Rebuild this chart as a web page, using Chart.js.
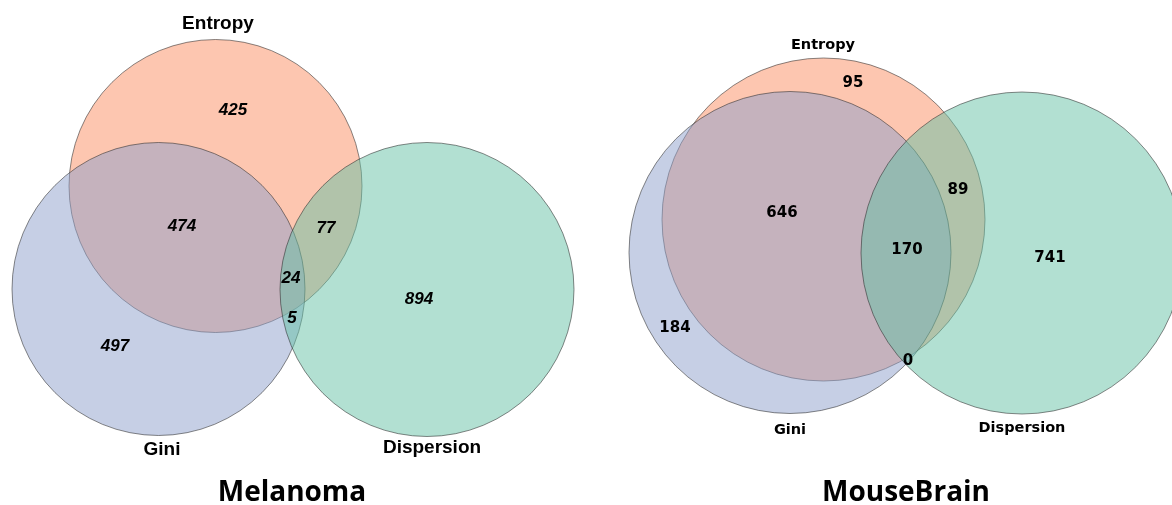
<!DOCTYPE html>
<html>
<head>
<meta charset="utf-8">
<script src="https://cdn.jsdelivr.net/npm/chart.js@4"></script>
<style>
  html, body { margin: 0; padding: 0; background: #fff; }
  #wrap { width: 1172px; height: 505px; }
</style>
</head>
<body>
<div id="wrap"><canvas id="venn" width="1172" height="505"></canvas></div>
<script>
// sets, in drawing order (Entropy at the bottom, Dispersion on top)
const setNames = ["Entropy", "Gini", "Dispersion"];
const setColors = ["#fc8d62", "#8da0cb", "#66c2a5"];

// Melanoma: region counts
const melRegions = ["E only", "E∩G", "E∩D", "E∩G∩D", "G∩D", "D only", "G only"];
const melCounts = [425, 474, 77, 24, 5, 894, 497];

// MouseBrain: region counts
const mbRegions = ["E only", "E∩D", "E∩G", "E∩G∩D", "D only", "G only", "G∩D"];
const mbCounts = [95, 89, 646, 170, 741, 184, 0];

const panelTitles = ["Melanoma", "MouseBrain"];

// layout (page units, same as pixels)
const melCircleX = [215.5, 158.5, 427];
const melCircleY = [186, 289, 289.5];
const melCircleR = [146.5, 146.5, 147];
const melSetLabelX = [218, 162, 432];
const melSetLabelY = [24, 450, 448];
const melCountX = [233, 182, 326, 291, 292, 419, 115];
const melCountY = [110, 226, 228, 278, 318, 299, 346];

const mbCircleX = [823.5, 790, 1022];
const mbCircleY = [219.5, 252.5, 253];
const mbCircleR = [161.5, 161, 161];
const mbSetLabelX = [823, 790, 1022];
const mbSetLabelY = [45, 430, 428];
const mbCountX = [853, 958, 782, 907, 1050, 675, 908];
const mbCountY = [83, 190, 213, 250, 258, 328, 361];

const titleX = [292, 906];
const titleY = [493, 493];

function hexA(hex, a) {
  const n = parseInt(hex.slice(1), 16);
  return `rgba(${(n >> 16) & 255}, ${(n >> 8) & 255}, ${n & 255}, ${a})`;
}

// one dataset per circle, radius converted through the x scale
const datasets = [];
[[melCircleX, melCircleY, melCircleR], [mbCircleX, mbCircleY, mbCircleR]].forEach(([xs, ys, rs]) => {
  setNames.forEach((name, i) => {
    datasets.push({
      label: name,
      order: setNames.length - i,
      data: [{ x: xs[i], y: ys[i] }],
      backgroundColor: hexA(setColors[i], 0.5),
      borderColor: "rgba(40, 40, 40, 0.55)",
      borderWidth: 1,
      pointRadius: (ctx) => {
        const sx = ctx.chart.scales.x;
        return sx.getPixelForValue(rs[i]) - sx.getPixelForValue(0);
      },
    });
  });
});

const textPlugin = {
  id: "vennText",
  afterDatasetsDraw(chart) {
    const { ctx, scales } = chart;
    const px = (v) => scales.x.getPixelForValue(v);
    const py = (v) => scales.y.getPixelForValue(v);
    ctx.save();
    ctx.fillStyle = "#000";
    ctx.textAlign = "center";
    ctx.textBaseline = "middle";

    ctx.font = "bold 19px 'Liberation Sans', Arial, sans-serif";
    setNames.forEach((n, i) => ctx.fillText(n, px(melSetLabelX[i]), py(melSetLabelY[i])));
    ctx.font = "italic bold 17px 'Liberation Sans', Arial, sans-serif";
    melCounts.forEach((c, i) => ctx.fillText(String(c), px(melCountX[i]), py(melCountY[i])));

    ctx.font = "bold 14.5px 'DejaVu Sans', sans-serif";
    setNames.forEach((n, i) => ctx.fillText(n, px(mbSetLabelX[i]), py(mbSetLabelY[i])));
    ctx.font = "bold 15px 'DejaVu Sans', sans-serif";
    mbCounts.forEach((c, i) => ctx.fillText(String(c), px(mbCountX[i]), py(mbCountY[i])));

    ctx.font = "bold 28px 'Open Sans', sans-serif";
    panelTitles.forEach((t, i) => ctx.fillText(t, px(titleX[i]), py(titleY[i])));
    ctx.restore();
  },
};

new Chart(document.getElementById("venn"), {
  type: "scatter",
  data: { datasets },
  options: {
    responsive: false,
    animation: false,
    events: [],
    layout: { padding: 0 },
    plugins: { legend: { display: false }, tooltip: { enabled: false } },
    scales: {
      x: { type: "linear", min: 0, max: 1172, display: false },
      y: { type: "linear", min: 0, max: 505, reverse: true, display: false },
    },
  },
  plugins: [textPlugin],
});
</script>
</body>
</html>
